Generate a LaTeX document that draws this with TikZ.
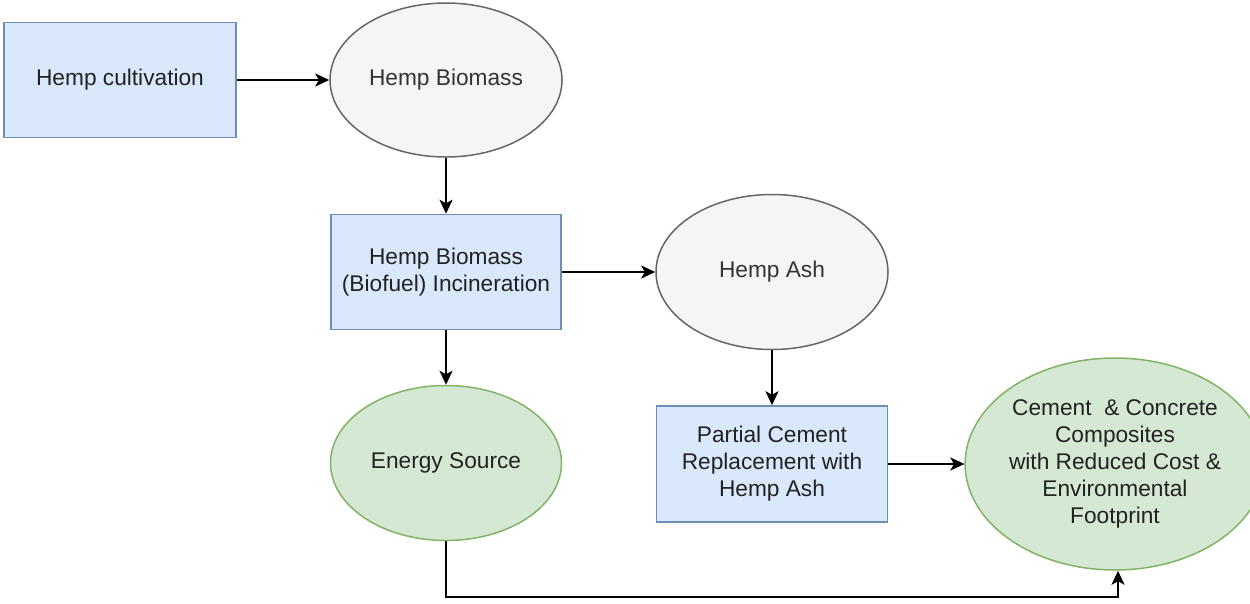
\documentclass[tikz,border=0pt]{standalone}
\usepackage{fontspec}
\setmainfont{Liberation Sans}
\usetikzlibrary{shapes.geometric,arrows.meta}
\definecolor{bluefill}{HTML}{DAE8FC}
\definecolor{bluedraw}{HTML}{6C8EBF}
\definecolor{greyfill}{HTML}{F5F5F5}
\definecolor{greydraw}{HTML}{666666}
\definecolor{greenfill}{HTML}{D5E8D4}
\definecolor{greendraw}{HTML}{82B366}
\definecolor{txtdark}{HTML}{222222}
\definecolor{txtgrey}{HTML}{333333}
\tikzset{
  every node/.style={font=\fontsize{22.7}{27}\selectfont, align=center, inner sep=0pt},
  bluebox/.style={rectangle, draw=bluedraw, fill=bluefill, line width=1.5pt, text=txtdark},
  greyell/.style={ellipse, draw=greydraw, fill=greyfill, line width=1.5pt, text=txtgrey},
  greenell/.style={ellipse, draw=greendraw, fill=greenfill, line width=1.5pt, text=txtdark},
  conn/.style={line width=1.9pt, draw=black, -{Stealth[length=14pt,width=13pt,inset=3.5pt]}}
}
\begin{document}
\begin{tikzpicture}[x=1pt,y=-1pt]
\useasboundingbox[fill=white] (0,0) rectangle (1250,603);

\node[bluebox, minimum width=232pt, minimum height=115pt] (cult) at (120,80) {Hemp cultivation};
\node[greyell, minimum width=232pt, minimum height=154pt] (bio) at (446,80) {Hemp Biomass};
\node[bluebox, minimum width=230pt, minimum height=115pt] (inc) at (446,272) {Hemp Biomass\\(Biofuel) Incineration};
\node[greyell, minimum width=232pt, minimum height=155pt] (ash) at (772,272) {Hemp Ash};
\node[greenell, minimum width=231pt, minimum height=155pt] (energy) at (446,463) {Energy Source};
\node[bluebox, minimum width=231pt, minimum height=116pt] (pcr) at (772,464) {Partial Cement\\Replacement with\\Hemp Ash};
\node[greenell, minimum width=265pt, minimum height=212pt] (cem) at (1115,464) {Cement~ \& Concrete\\Composites\\with Reduced Cost \&\\Environmental\\Footprint};

\coordinate (bend1) at (446,597);
\coordinate (bend2) at (1118,597);

\draw[conn] (cult.east) -- (bio.west);
\draw[conn] (bio.south) -- (inc.north);
\draw[conn] (inc.east) -- (ash.west);
\draw[conn] (inc.south) -- (energy.north);
\draw[conn] (ash.south) -- (pcr.north);
\draw[conn] (pcr.east) -- (cem.west);
\draw[conn] (energy.south) -- (bend1) -- (bend2) -- (bend2 |- cem.south);
\end{tikzpicture}
\end{document}
